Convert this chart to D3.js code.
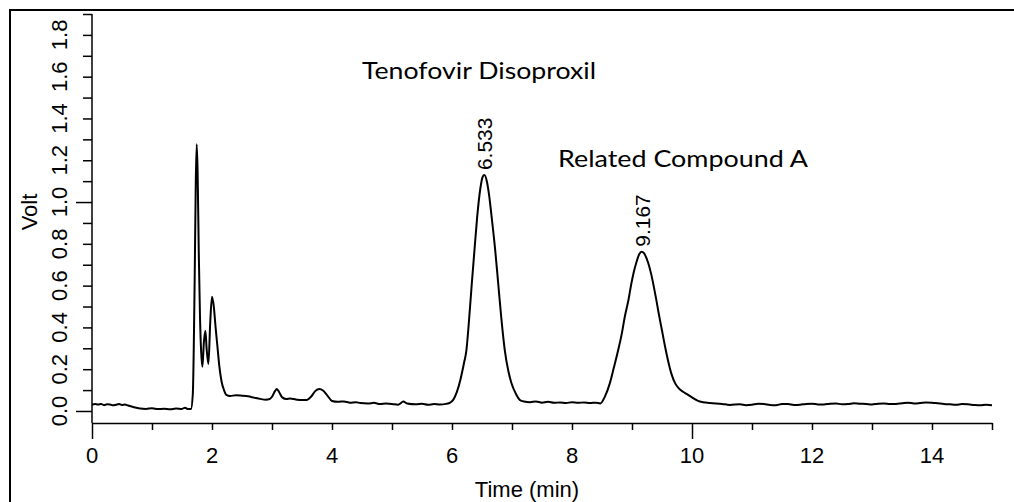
<!DOCTYPE html>
<html>
<head>
<meta charset="utf-8">
<script src="https://cdn.jsdelivr.net/npm/d3@7"></script>
<style>
  html, body { margin: 0; padding: 0; background: #fff; }
  svg { display: block; }
</style>
</head>
<body>
<svg id="chart" width="1014" height="502"></svg>
<script>
// ---- data ----
const timeMin = [0.00,0.05,0.10,0.15,0.20,0.25,0.30,0.35,0.40,0.45,0.50,0.55,0.60,0.70,0.80,0.90,1.00,1.10,1.20,1.30,1.40,1.50,1.55,1.60,1.65,
  1.68,1.71,1.73,1.745,1.76,1.78,1.80,1.82,1.84,1.865,1.89,1.91,1.94,1.97,2.00,2.03,2.06,2.09,2.12,2.16,2.20,2.24,
  2.30,2.40,2.50,2.60,2.70,2.80,2.90,2.95,3.00,3.05,3.08,3.12,3.17,3.24,3.30,3.40,3.50,3.58,3.65,3.72,3.79,3.85,3.92,
  4.00,4.10,4.20,4.30,4.40,4.47,4.60,4.70,4.80,4.90,5.00,5.10,5.19,5.25,5.40,5.50,5.60,5.70,5.80,5.90,5.97,6.02,6.08,6.14,6.20,6.24,6.28,
  6.33,6.38,6.42,6.47,6.51,6.54,6.58,6.62,6.66,6.72,6.77,6.82,6.88,6.94,6.99,7.06,7.13,7.20,7.30,7.40,7.50,7.60,7.70,
  7.80,7.90,8.00,8.10,8.20,8.30,8.40,8.47,8.55,8.63,8.70,8.77,8.83,8.88,8.94,8.99,9.03,9.07,9.12,9.16,9.20,9.27,9.32,
  9.36,9.40,9.44,9.50,9.55,9.61,9.66,9.72,9.78,9.85,9.91,10.00,10.13,10.30,10.50,10.63,10.80,10.90,11.00,11.10,11.20,11.30,11.40,11.50,11.60,11.70,11.80,11.90,12.00,
  12.10,12.20,12.30,12.40,12.50,12.60,12.70,12.80,12.90,13.00,13.10,13.20,13.30,13.40,13.50,13.60,13.70,13.80,13.90,14.00,14.10,14.20,14.30,14.40,14.50,14.60,14.70,14.80,14.90,15.00];
const volt = [0.030,0.033,0.031,0.034,0.028,0.032,0.031,0.027,0.030,0.033,0.029,0.031,0.026,0.018,0.012,0.010,0.013,0.009,0.011,0.008,0.012,0.010,0.016,0.009,0.010,
  0.080,0.600,1.100,1.277,1.150,0.750,0.450,0.280,0.212,0.330,0.384,0.300,0.225,0.420,0.547,0.500,0.400,0.310,0.220,0.140,0.100,0.077,
  0.072,0.075,0.073,0.070,0.064,0.058,0.054,0.056,0.068,0.095,0.105,0.090,0.065,0.057,0.060,0.055,0.052,0.053,0.068,0.095,0.105,0.098,0.075,
  0.048,0.044,0.046,0.040,0.042,0.038,0.036,0.039,0.033,0.036,0.034,0.030,0.045,0.036,0.032,0.035,0.030,0.033,0.031,0.034,0.040,0.053,0.090,0.150,0.230,0.290,0.420,
  0.610,0.790,0.930,1.060,1.120,1.129,1.100,1.030,0.930,0.770,0.610,0.450,0.290,0.190,0.134,0.085,0.053,0.045,0.042,0.046,0.040,0.044,0.039,
  0.041,0.038,0.042,0.039,0.041,0.038,0.040,0.036,0.070,0.132,0.210,0.292,0.370,0.451,0.530,0.611,0.665,0.708,0.750,0.762,0.755,0.708,0.655,
  0.600,0.540,0.475,0.385,0.310,0.230,0.175,0.132,0.108,0.092,0.082,0.065,0.045,0.038,0.034,0.029,0.032,0.028,0.030,0.035,0.034,0.029,0.028,0.033,0.033,0.029,0.030,0.034,0.035,
  0.031,0.031,0.035,0.036,0.032,0.033,0.037,0.035,0.034,0.031,0.035,0.036,0.033,0.034,0.037,0.040,0.036,0.038,0.041,0.040,0.037,0.034,0.032,0.030,0.033,0.032,0.029,0.027,0.030,0.028];
const xTickValues = [0,1,2,3,4,5,6,7,8,9,10,11,12,13,14,15];
const xTickLabels = ["0","2","4","6","8","10","12","14"];
const yTickValues = [0.0,0.1,0.2,0.3,0.4,0.5,0.6,0.7,0.8,0.9,1.0,1.1,1.2,1.3,1.4,1.5,1.6,1.7,1.8,1.9];
const yTickLabels = ["0.0","0.2","0.4","0.6","0.8","1.0","1.2","1.4","1.6","1.8"];
const peakTimes = [6.533, 9.167];
const peakHeights = [1.129, 0.762];
const peakLabels = ["6.533", "9.167"];
const compoundNames = ["Tenofovir Disoproxil", "Related Compound A"];
const xTitle = "Time (min)";
const yTitle = "Volt";

// ---- layout ----
const svg = d3.select("#chart");
const plotL = 92, plotR = 992, plotT = 14, plotB = 423;
const x = d3.scaleLinear().domain([0, 15]).range([plotL, plotR]);
const y = d3.scaleLinear().domain([-0.0575, 1.9]).range([plotB, plotT]);

// outer frame
svg.append("rect").attr("x", 10).attr("y", 10).attr("width", 1020).attr("height", 520)
  .attr("fill", "none").attr("stroke", "#000").attr("stroke-width", 2);

const axisFont = "'Liberation Sans', Arial, sans-serif";

// x axis
const gx = svg.append("g").attr("transform", `translate(0,${plotB})`)
  .call(d3.axisBottom(x).tickValues(xTickValues).tickSize(7).tickSizeOuter(0).tickFormat(""));
gx.selectAll(".tick line").attr("y2", d => (d % 10 === 0 ? 16 : 7));
gx.selectAll("path, line").attr("stroke", "#000").attr("stroke-width", 1.5);
svg.append("g").selectAll("text").data(xTickLabels).join("text")
  .attr("x", d => x(+d)).attr("y", 463)
  .attr("text-anchor", "middle").attr("font-family", axisFont).attr("font-size", 22)
  .text(d => d);

// y axis
const gy = svg.append("g").attr("transform", `translate(${plotL},0)`)
  .call(d3.axisLeft(y).tickValues(yTickValues).tickSize(9).tickSizeOuter(0).tickFormat(""));
gy.select(".domain").attr("d", `M0,${plotT}V${plotB}`);
gy.selectAll(".tick line").attr("x2", d => (Math.abs(d % 1) < 1e-9 ? -16 : -9));
gy.selectAll("path, line").attr("stroke", "#000").attr("stroke-width", 1.5);
svg.append("g").selectAll("text").data(yTickLabels).join("text")
  .attr("transform", d => `translate(67,${y(+d)}) rotate(-90)`)
  .attr("text-anchor", "middle").attr("font-family", axisFont).attr("font-size", 22)
  .text(d => d);

// axis titles
svg.append("text").attr("x", 527).attr("y", 497).attr("text-anchor", "middle")
  .attr("font-family", axisFont).attr("font-size", 22).text(xTitle);
svg.append("text").attr("transform", `translate(37,212) rotate(-90)`).attr("text-anchor", "middle")
  .attr("font-family", axisFont).attr("font-size", 22).text(yTitle);

// chromatogram trace
const pts = timeMin.map((t, i) => [t, volt[i]]);
const line = d3.line().x(d => x(d[0])).y(d => y(d[1])).curve(d3.curveMonotoneX);
svg.append("path").datum(pts).attr("d", line)
  .attr("fill", "none").attr("stroke", "#000").attr("stroke-width", 2).attr("stroke-linejoin", "round");

// peak retention-time labels
svg.append("g").selectAll("text").data(peakLabels).join("text")
  .attr("transform", (d, i) => `translate(${x(peakTimes[i]) + 8},${y(peakHeights[i]) - 5}) rotate(-90)`)
  .attr("text-anchor", "start").attr("font-family", axisFont).attr("font-size", 21)
  .text(d => d);

// compound names
const nameFont = "Lato, 'Open Sans', sans-serif";
svg.append("text").attr("x", 362).attr("y", 79).attr("font-family", nameFont).attr("font-size", 24)
  .attr("textLength", 234).attr("lengthAdjust", "spacingAndGlyphs")
  .text(compoundNames[0]);
svg.append("text").attr("x", 558).attr("y", 167).attr("font-family", nameFont).attr("font-size", 24)
  .attr("textLength", 250).attr("lengthAdjust", "spacingAndGlyphs")
  .text(compoundNames[1]);
</script>
</body>
</html>
